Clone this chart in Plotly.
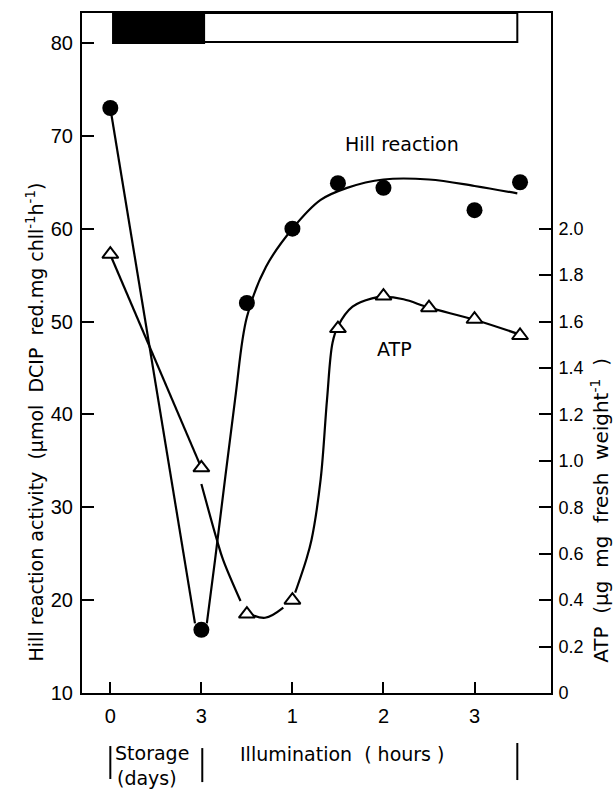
import plotly.graph_objects as go

# ---------------- data ----------------
# x positions: 0 = day 0 of storage, 1 = 3 days storage (= 0 h illumination),
# 2, 3, 4 = 1, 2, 3 h illumination; halves in between
x_tick_pos = [0, 1, 2, 3, 4]
x_tick_text = ["0", "3", "1", "2", "3"]

hill_x = [0, 1, 1.5, 2, 2.5, 3, 4, 4.5]
hill = [73.0, 16.8, 52.0, 60.0, 64.9, 64.4, 62.0, 65.0]

atp_x = [0, 1, 1.5, 2, 2.5, 3, 3.5, 4, 4.5]
atp = [1.89, 0.97, 0.34, 0.40, 1.57, 1.71, 1.66, 1.61, 1.54]

# hand-drawn curves (knots)
hill_drop_x = [0, 0.93]
hill_drop = [73.0, 17.5]
hill_rise_x = [1.06, 1.15, 1.37, 1.5, 1.71, 2, 2.31, 2.6, 3, 3.5, 4, 4.47]
hill_rise = [17.5, 24.3, 41.6, 50.5, 55.9, 60.0, 63.1, 64.4, 65.3, 65.3, 64.6, 63.8]

atp_drop_x = [0, 1]
atp_drop = [1.888, 0.97]
atp_drop2_x = [1.0, 1.17, 1.24, 1.43]
atp_drop2 = [0.90, 0.66, 0.572, 0.396]
atp_dip_x = [1.51, 1.7, 1.9]
atp_dip = [0.344, 0.324, 0.368]
atp_rise_x = [2.03, 2.15, 2.21, 2.31, 2.38, 2.44, 2.5, 2.66, 2.875, 3, 3.22, 3.5, 4, 4.5]
atp_rise = [0.432, 0.572, 0.66, 0.92, 1.264, 1.508, 1.58, 1.664, 1.70, 1.706, 1.696, 1.66, 1.608, 1.544]

left_ticks = [10, 20, 30, 40, 50, 60, 70, 80]
right_ticks = [0, 0.2, 0.4, 0.6, 0.8, 1.0, 1.2, 1.4, 1.6, 1.8, 2.0]
right_tick_text = ["0", "0.2", "0.4", "0.6", "0.8", "1.0", "1.2", "1.4", "1.6", "1.8", "2.0"]

dark_period = [0.03, 1.03]    # storage in darkness
light_period = [1.03, 4.47]   # illumination

TICK_FONT = "Liberation Sans"
TEXT_FONT = "DejaVu Sans"
LW = 2.2

fig = go.Figure()

def curve(x, y, axis, shape):
    fig.add_trace(go.Scatter(x=x, y=y, mode="lines", yaxis=axis,
                             line=dict(color="black", width=LW, shape=shape, smoothing=1.0),
                             showlegend=False, hoverinfo="skip"))

curve(hill_drop_x, hill_drop, "y", "linear")
curve(hill_rise_x, hill_rise, "y", "spline")
curve(atp_drop_x, atp_drop, "y2", "linear")
curve(atp_drop2_x, atp_drop2, "y2", "spline")
curve(atp_dip_x, atp_dip, "y2", "spline")
curve(atp_rise_x, atp_rise, "y2", "spline")

fig.add_trace(go.Scatter(x=hill_x, y=hill, mode="markers", yaxis="y",
                         marker=dict(symbol="circle", size=16, color="black"),
                         showlegend=False))
fig.add_trace(go.Scatter(x=atp_x, y=atp, mode="markers", yaxis="y2",
                         marker=dict(symbol="triangle-up", size=14, color="white",
                                     line=dict(color="black", width=2)),
                         showlegend=False))

shapes = [
    dict(type="rect", xref="x", yref="y", x0=dark_period[0], x1=dark_period[1],
         y0=80, y1=83.23, fillcolor="black", line=dict(color="black", width=2)),
    dict(type="rect", xref="x", yref="y", x0=light_period[0], x1=light_period[1],
         y0=80.1, y1=83.23, fillcolor="white", line=dict(color="black", width=2)),
    # bracket bars under the axis
    dict(type="line", xref="x", yref="paper", x0=0, x1=0, y0=-0.078, y1=-0.1265,
         line=dict(color="black", width=2)),
    dict(type="line", xref="x", yref="paper", x0=1.01, x1=1.01, y0=-0.081, y1=-0.131,
         line=dict(color="black", width=2)),
    dict(type="line", xref="x", yref="paper", x0=4.47, x1=4.47, y0=-0.0735, y1=-0.128,
         line=dict(color="black", width=2)),
]

tf = dict(family=TEXT_FONT, size=19, color="black")
common = dict(showarrow=False, font=tf, xanchor="center", yanchor="middle")
annotations = [
    dict(x=3.205, y=69.1, xref="x", yref="y", text="Hill reaction", **common),
    dict(x=3.12, y=1.48, xref="x", yref="y2", text="ATP", **common),
    dict(x=0.46, y=-0.0882, xref="x", yref="paper", text="Storage", **common),
    dict(x=0.40, y=-0.1245, xref="x", yref="paper", text="(days)", **common),
    dict(x=2.54, y=-0.0897, xref="x", yref="paper", text="Illumination  ( hours )", **common),
    dict(x=-0.1, y=0.398, xref="paper", yref="paper", textangle=-90,
         text="Hill reaction activity  (μmol  DCIP  red.mg chll<sup>-1</sup>h<sup>-1</sup>)",
         **common),
    dict(x=1.104, y=0.269, xref="paper", yref="paper", textangle=-90,
         text="ATP  (μg  mg  fresh  weight<sup>-1</sup>  )",
         showarrow=False, xanchor="center", yanchor="middle",
         font=dict(family=TEXT_FONT, size=20, color="black")),
]

fig.update_layout(
    width=615, height=789,
    margin=dict(l=82, r=64, t=13, b=96),
    paper_bgcolor="white", plot_bgcolor="white",
    showlegend=False, hovermode=False,
    shapes=shapes, annotations=annotations,
    xaxis=dict(range=[-0.311, 4.84], tickvals=x_tick_pos, ticktext=x_tick_text,
               showline=True, mirror=True, linecolor="black", linewidth=2,
               ticks="inside", ticklen=11, tickwidth=2, tickcolor="black",
               showgrid=False, zeroline=False, ticklabelstandoff=4,
               tickfont=dict(family=TICK_FONT, size=20, color="black")),
    yaxis=dict(range=[10, 83.23], tickvals=left_ticks,
               showline=True, linecolor="black", linewidth=2,
               ticks="inside", ticklen=12, tickwidth=2, tickcolor="black",
               showgrid=False, zeroline=False, ticklabelstandoff=3,
               tickfont=dict(family=TICK_FONT, size=20, color="black")),
    yaxis2=dict(range=[0, 2.9292], overlaying="y", side="right",
                tickvals=right_ticks, ticktext=right_tick_text,
                showline=True, linecolor="black", linewidth=2,
                ticks="inside", ticklen=12, tickwidth=2, tickcolor="black",
                showgrid=False, zeroline=False, ticklabelstandoff=2,
                tickfont=dict(family=TICK_FONT, size=18, color="black")),
)

# remove the page's default body margin so the figure fills the window exactly
fig.write_html("out.html",
               config={"displayModeBar": False, "staticPlot": True},
               post_script="document.body.style.margin='0px';"
                           "document.body.style.overflow='hidden';")
